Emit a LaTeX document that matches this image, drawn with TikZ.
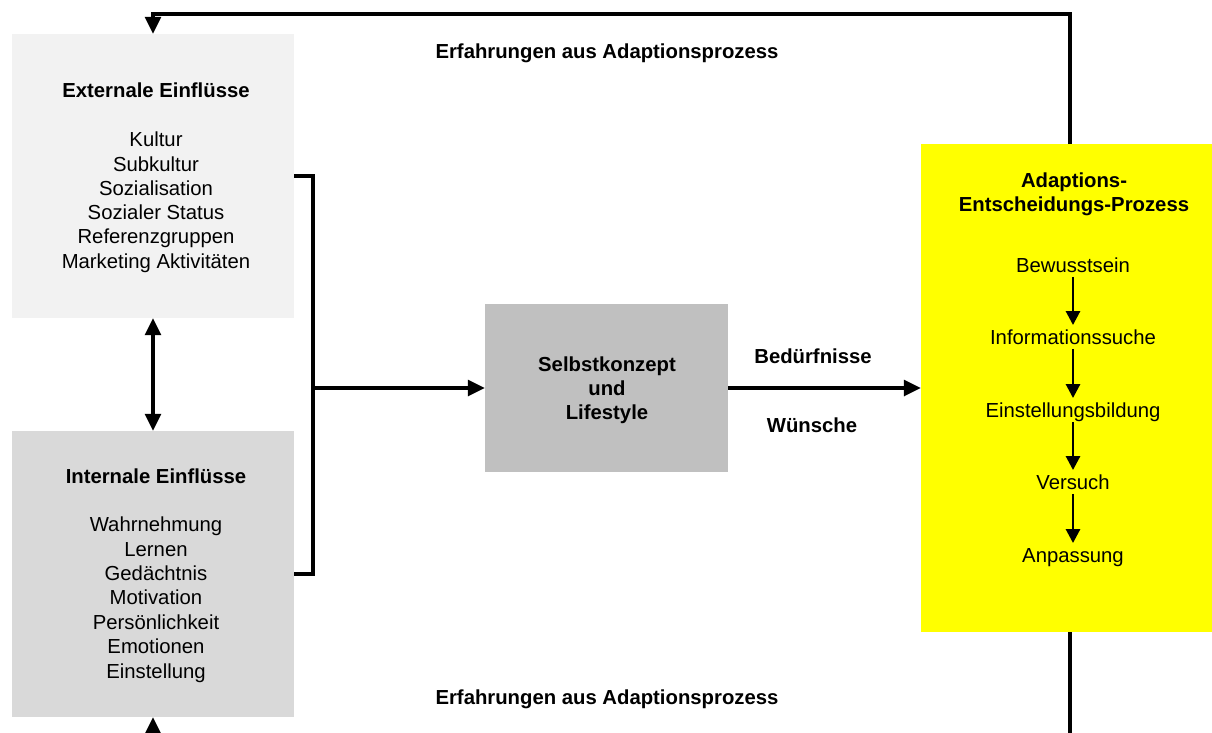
\documentclass[tikz,border=0pt]{standalone}
\usepackage{fontspec}
\setmainfont{Liberation Sans}
\usetikzlibrary{arrows.meta}
\definecolor{extgray}{HTML}{F2F2F2}
\definecolor{intgray}{HTML}{D9D9D9}
\definecolor{midgray}{HTML}{C0C0C0}
\definecolor{procyellow}{HTML}{FFFF00}
\begin{document}
\begin{tikzpicture}[x=1pt,y=-1pt,
  panel/.style={draw=none,inner sep=0pt,minimum width=#1},
  txt/.style={inner sep=0pt,text height=14.5pt,text depth=4pt,font=\fontsize{20.3}{24}\selectfont},
  btxt/.style={txt,font=\fontsize{20.3}{24}\selectfont\bfseries},
  wire/.style={line width=3.2pt},
  conn/.style={wire,-{Triangle[length=17pt,width=16pt]}},
  sconn/.style={line width=2.8pt,-{Triangle[length=14pt,width=14pt]},shorten >=5pt}
]
\useasboundingbox (0,0) rectangle (1212,733);
% panels
\node[panel=282pt,minimum height=284pt,fill=extgray] (ext) at (153,176) {};
\node[panel=282pt,minimum height=286pt,fill=intgray] (int) at (153,574) {};
\node[panel=243pt,minimum height=168pt,fill=midgray] (selbst) at (606.5,388) {};
\node[panel=291pt,minimum height=488pt,fill=procyellow] (proc) at (1066.5,388) {};
% external text
\node[btxt] (et) at (156,92.5) {Externale Einflüsse};
\foreach \t/\yy [count=\i] in {Kultur/141.5,Subkultur/165.8,Sozialisation/190.1,Sozialer Status/214.4,Referenzgruppen/238.7,Marketing Aktivitäten/263}
  \node[txt] (e\i) at (156,\yy) {\t};
% internal text
\node[btxt] (it) at (156,478.5) {Internale Einflüsse};
\foreach \t/\yy [count=\i] in {Wahrnehmung/526.5,Lernen/550.9,Gedächtnis/575.3,Motivation/599.7,Persönlichkeit/624.1,Emotionen/648.5,Einstellung/673}
  \node[txt] (i\i) at (156,\yy) {\t};
% selbstkonzept
\node[btxt] (s1) at (607,366.5) {Selbstkonzept};
\node[btxt] (s2) at (607,390.5) {und};
\node[btxt] (s3) at (607,414.5) {Lifestyle};
% process
\node[btxt] (p1) at (1074,182.5) {Adaptions-};
\node[btxt] (p2) at (1074,206.5) {Entscheidungs-Prozess};
\node[txt] (st1) at (1073,267.5) {Bewusstsein};
\node[txt] (st2) at (1073,339.5) {Informationssuche};
\node[txt] (st3) at (1073,412.5) {Einstellungsbildung};
\node[txt] (st4) at (1073,484.5) {Versuch};
\node[txt] (st5) at (1073,557.5) {Anpassung};
\foreach \a/\b in {st1/st2,st2/st3,st3/st4,st4/st5}
  \draw[sconn] (\a.south) -- (\b.north);
% labels
\node[btxt] (l1) at (607,53.5) {Erfahrungen aus Adaptionsprozess};
\node[btxt] (l2) at (607,699.5) {Erfahrungen aus Adaptionsprozess};
\node[btxt] (bed) at (813,358.5) {Bedürfnisse};
\node[btxt] (wun) at (812,427.5) {Wünsche};
% connectors
\coordinate (j) at (313,388);
\draw[wire] (ext.east) -| (j) |- (int.east);
\draw[conn] (j) -- (selbst.west);
\draw[conn] (selbst.east) -- (proc.west);
\draw[wire,{Triangle[length=17pt,width=16pt]}-{Triangle[length=17pt,width=16pt]}] (ext.south) -- (int.north);
\coordinate (ptop) at (1070,144);
\coordinate (tr) at (1070,14);
\coordinate (tl) at (153,14);
\draw[conn] (ptop) -- (tr) -- (tl) -- (ext.north);
\coordinate (pbot) at (1070,632);
\coordinate (br) at (1070,760);
\coordinate (bl) at (153,760);
\draw[conn] (pbot) -- (br) -- (bl) -- (int.south);
\end{tikzpicture}
\end{document}
